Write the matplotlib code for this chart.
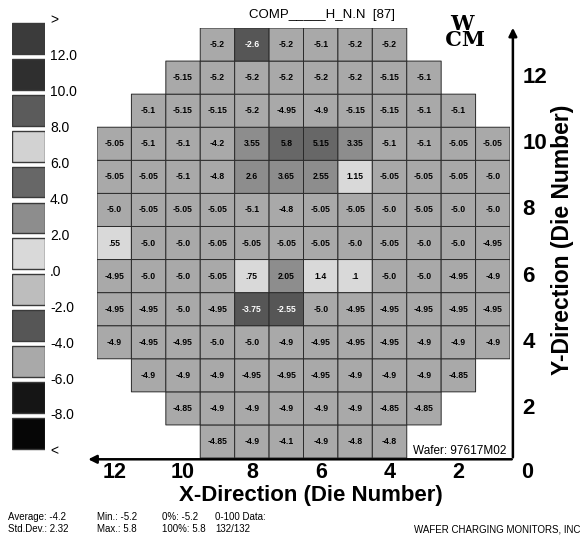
import numpy as np
import matplotlib
matplotlib.use("Agg")
import matplotlib.pyplot as plt
from matplotlib.colors import ListedColormap, BoundaryNorm
from matplotlib.patches import Rectangle

plt.rcParams["font.family"] = ["Liberation Sans", "DejaVu Sans"]

# wafer map, one list per die row (Y = 13 at the top, 1 at the bottom)
row_y = [13, 12, 11, 10, 9, 8, 7, 6, 5, 4, 3, 2, 1]
row_first_col = [3, 2, 1, 0, 0, 0, 0, 0, 0, 0, 1, 2, 3]  # column 0 is X die 12
row_values = [
    [-5.2, -2.6, -5.2, -5.1, -5.2, -5.2],
    [-5.15, -5.2, -5.2, -5.2, -5.2, -5.2, -5.15, -5.1],
    [-5.1, -5.15, -5.15, -5.2, -4.95, -4.9, -5.15, -5.15, -5.1, -5.1],
    [-5.05, -5.1, -5.1, -4.2, 3.55, 5.8, 5.15, 3.35, -5.1, -5.1, -5.05, -5.05],
    [-5.05, -5.05, -5.1, -4.8, 2.6, 3.65, 2.55, 1.15, -5.05, -5.05, -5.05, -5.0],
    [-5.0, -5.05, -5.05, -5.05, -5.1, -4.8, -5.05, -5.05, -5.0, -5.05, -5.0, -5.0],
    [0.55, -5.0, -5.0, -5.05, -5.05, -5.05, -5.05, -5.0, -5.05, -5.0, -5.0, -4.95],
    [-4.95, -5.0, -5.0, -5.05, 0.75, 2.05, 1.4, 0.1, -5.0, -5.0, -4.95, -4.9],
    [-4.95, -4.95, -5.0, -4.95, -3.75, -2.55, -5.0, -4.95, -4.95, -4.95, -4.95, -4.95],
    [-4.9, -4.95, -4.95, -5.0, -5.0, -4.9, -4.95, -4.95, -4.95, -4.9, -4.9, -4.9],
    [-4.9, -4.9, -4.9, -4.95, -4.95, -4.95, -4.9, -4.9, -4.9, -4.85],
    [-4.85, -4.9, -4.9, -4.9, -4.9, -4.9, -4.85, -4.85],
    [-4.85, -4.9, -4.1, -4.9, -4.8, -4.8],
]

# legend bins (bottom to top) and their grey levels
bin_bounds = [-8, -6, -4, -2, 0, 2, 4, 6, 8, 10, 12]
bin_colors = ["#060606", "#151515", "#a9a9a9", "#565656", "#bdbdbd", "#d9d9d9",
              "#8d8d8d", "#676767", "#d2d2d2", "#5b5b5b", "#2f2f2f", "#3b3b3b"]
legend_labels = ["<", "-8.0", "-6.0", "-4.0", "-2.0", ".0", "2.0", "4.0",
                 "6.0", "8.0", "10.0", "12.0", ">"]

x_ticks = [12, 10, 8, 6, 4, 2, 0]
y_ticks = [12, 10, 8, 6, 4, 2]

title = "COMP_____H_N.N  [87]"
wafer_id = "Wafer: 97617M02"
stats_top = ["Average: -4.2", "Min.: -5.2", "0%: -5.2", "0-100 Data:"]
stats_bottom = ["Std.Dev.: 2.32", "Max.: 5.8", "100%: 5.8", "132/132"]
company = "WAFER CHARGING MONITORS, INC"

W, H = 583, 537


def fig_rect(x0, y0, x1, y1):
    # pixel box -> figure fraction [left, bottom, width, height]
    return [x0 / W, 1 - y1 / H, (x1 - x0) / W, (y1 - y0) / H]


def value_label(v):
    s = f"{v:.2f}".rstrip("0")
    if s.endswith("."):
        s += "0"
    return s.replace("0.", ".", 1) if s.startswith("0.") else s


fig = plt.figure(figsize=(W / 100, H / 100), dpi=100)

cmap = ListedColormap(bin_colors)
norm = BoundaryNorm(bin_bounds, ncolors=len(bin_colors), extend="both")

# ---- wafer map
ax = fig.add_axes(fig_rect(97, 28, 510, 458))
n_rows, n_cols = 13, 12
grid = np.full((n_rows, n_cols), np.nan)
for y, c0, vals in zip(row_y, row_first_col, row_values):
    for i, v in enumerate(vals):
        grid[y - 1, c0 + i] = v

x_edges = 12.5 - np.arange(n_cols + 1)
y_edges = 0.5 + np.arange(n_rows + 1)
ax.pcolor(x_edges, y_edges, np.ma.masked_invalid(grid), cmap=cmap, norm=norm,
          edgecolors="#2a2a2a", linewidths=0.7)

for y, c0, vals in zip(row_y, row_first_col, row_values):
    for i, v in enumerate(vals):
        txt_color = "white" if -4 <= v < -2 else "black"
        ax.text(12 - (c0 + i), y, value_label(v), ha="center", va="center",
                fontsize=6.2, fontweight="bold", color=txt_color)

ax.set_xlim(12.5, 0.5)
ax.set_ylim(0.5, 13.5)
ax.axis("off")

# axis arrows
ax.annotate("", xy=(1.007, 1.007), xytext=(1.007, -0.005), xycoords="axes fraction",
            arrowprops=dict(arrowstyle="-|>", lw=1.8, color="black", mutation_scale=12))
ax.annotate("", xy=(-0.028, -0.003), xytext=(1.011, -0.003), xycoords="axes fraction",
            arrowprops=dict(arrowstyle="-|>", lw=1.8, color="black", mutation_scale=12))

for xt in x_ticks:
    ax.text(xt, -0.033, str(xt), transform=ax.get_xaxis_transform(), ha="center",
            va="center", fontsize=15.5, fontweight="bold", clip_on=False)
for yt in y_ticks:
    ax.text(1.03, yt, str(yt), transform=ax.get_yaxis_transform(), ha="left",
            va="center", fontsize=16, fontweight="bold", clip_on=False)

fig.text(311 / W, 1 - 496 / H, "X-Direction (Die Number)", ha="center", va="center",
         fontsize=16, fontweight="bold")
fig.text(562 / W, 1 - 240 / H, "Y-Direction (Die Number)", ha="center", va="center",
         rotation=90, fontsize=16.5, fontweight="bold")

fig.text(322 / W, 1 - 15 / H, title, ha="center", va="center", fontsize=9.5)
fig.text(460 / W, 1 - 451 / H, wafer_id, ha="center", va="center", fontsize=8.5)

# logo
fig.text(462 / W, 1 - 32 / H, "W\n CM", ha="center", va="center", fontsize=15,
         fontweight="bold", family="DejaVu Serif", linespacing=0.75)

# ---- legend
cax = fig.add_axes(fig_rect(12, 20.5, 45, 451.3))
n_bins = len(bin_colors)
for i, col in enumerate(bin_colors):
    cax.add_patch(Rectangle((0, i + 0.07), 1, 0.86, facecolor=col,
                            edgecolor="#3a3a3a", lw=1.0))
for i, lab in enumerate(legend_labels):
    cax.text(1.15, i, lab, ha="left", va="center", fontsize=10, clip_on=False)
cax.set_xlim(0, 1)
cax.set_ylim(0, n_bins)
cax.axis("off")

# ---- footer
for x_px, t1, t2 in zip([8, 97, 162, 215], stats_top, stats_bottom):
    fig.text(x_px / W, 1 - 517 / H, t1, ha="left", va="center", fontsize=7)
    fig.text(x_px / W, 1 - 529 / H, t2, ha="left", va="center", fontsize=7)
fig.text(580 / W, 1 - 529 / H, company, ha="right", va="center", fontsize=7)

fig.savefig("out.png", dpi=100)
